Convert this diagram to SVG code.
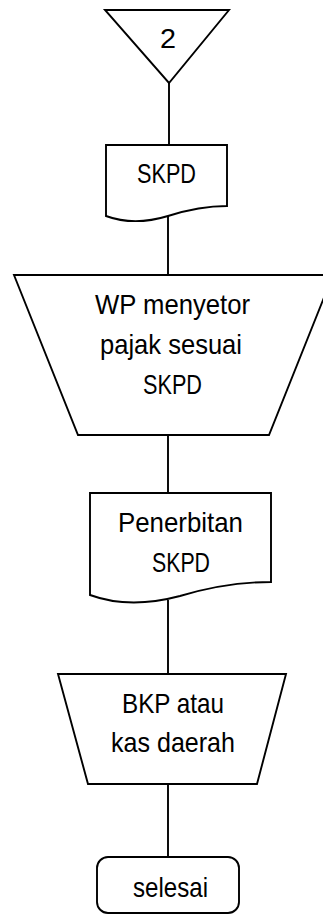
<svg xmlns="http://www.w3.org/2000/svg" width="323" height="922" viewBox="0 0 323 922">
<style>
.s{fill:#fff;stroke:#000;stroke-width:1.9;stroke-linejoin:miter}
.c{fill:none;stroke:#000;stroke-width:1.9}
text{font-family:"Liberation Sans","Noto Sans",sans-serif;font-size:28px;fill:#000;text-anchor:middle}
</style>
<rect width="323" height="922" fill="#fff"/>
<g id="connectors">
<line class="c" x1="169" y1="83" x2="169" y2="145"/>
<line class="c" x1="168" y1="216" x2="168" y2="275"/>
<line class="c" x1="168" y1="435" x2="168" y2="493"/>
<line class="c" x1="168" y1="600" x2="168" y2="674"/>
<line class="c" x1="168" y1="784" x2="168" y2="857"/>
</g>
<g id="n1">
<polygon class="s" points="105,10 229,10 169,83"/>
<text x="168" y="48" textLength="16" lengthAdjust="spacingAndGlyphs">2</text>
</g>
<g id="n2">
<path class="s" d="M106,145 L227,145 L227,206 C210,206 190,209 168,216 C145,223 125,223 106,216 Z"/>
<text x="166.5" y="183" textLength="59" lengthAdjust="spacingAndGlyphs">SKPD</text>
</g>
<g id="n3">
<polygon class="s" points="14,275 333,275 269,435 78,435"/>
<text x="172.5" y="314" textLength="155" lengthAdjust="spacingAndGlyphs">WP menyetor</text>
<text x="171" y="354" textLength="142" lengthAdjust="spacingAndGlyphs">pajak sesuai</text>
<text x="172.5" y="394" textLength="59" lengthAdjust="spacingAndGlyphs">SKPD</text>
</g>
<g id="n4">
<path class="s" d="M90,493 L271,493 L271,582 C240,582 210,587 180,596 C150,604 120,606 90,595 Z"/>
<text x="180.5" y="532" textLength="125" lengthAdjust="spacingAndGlyphs">Penerbitan</text>
<text x="181" y="572" textLength="58" lengthAdjust="spacingAndGlyphs">SKPD</text>
</g>
<g id="n5">
<polygon class="s" points="58,674 286,674 257,784 88,784"/>
<text x="173" y="713" textLength="102" lengthAdjust="spacingAndGlyphs">BKP atau</text>
<text x="173" y="752" textLength="124" lengthAdjust="spacingAndGlyphs">kas daerah</text>
</g>
<g id="n6">
<rect class="s" x="97" y="857" width="142" height="56" rx="11" ry="11"/>
<text x="170.5" y="897" textLength="75" lengthAdjust="spacingAndGlyphs">selesai</text>
</g>
</svg>
